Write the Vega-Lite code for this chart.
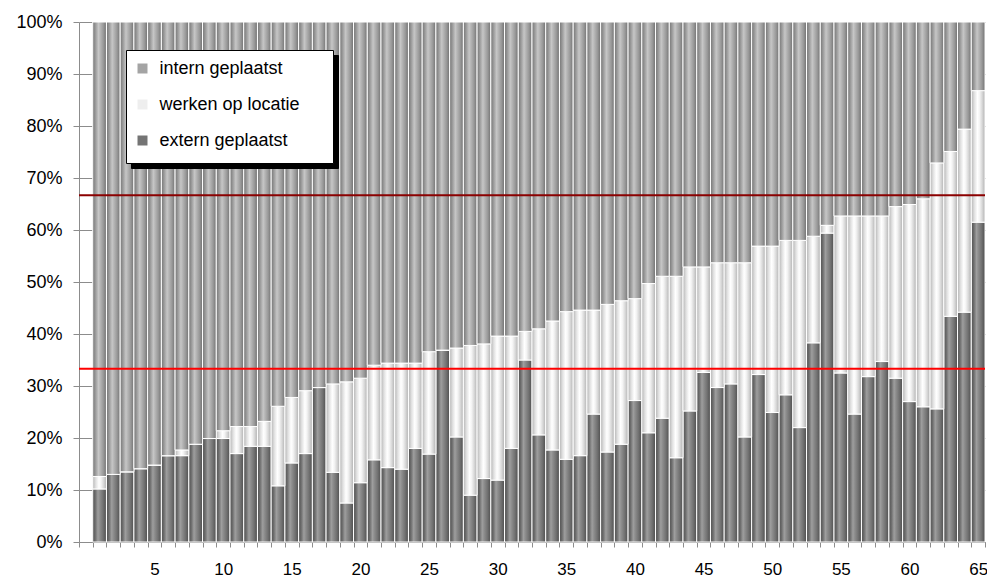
{
  "$schema": "https://vega.github.io/schema/vega-lite/v6.json",
  "width": 906,
  "height": 520,
  "autosize": {"type": "none"},
  "padding": {"left": 79, "top": 22, "right": 2, "bottom": 39},
  "background": "white",
  "config": {
    "font": "Liberation Sans",
    "view": {"stroke": null},
    "axis": {"domainColor": "#8c8c8c", "tickColor": "#8c8c8c", "labelColor": "black", "labelFontSize": 18, "labelFont": "Liberation Sans", "title": null}
  },
  "data": {"values": [
    {"n": 1, "extern geplaatst": 10.2, "werken op locatie": 2.4, "intern geplaatst": 87.4},
    {"n": 2, "extern geplaatst": 13.0, "werken op locatie": 0, "intern geplaatst": 87.0},
    {"n": 3, "extern geplaatst": 13.5, "werken op locatie": 0, "intern geplaatst": 86.5},
    {"n": 4, "extern geplaatst": 14.1, "werken op locatie": 0, "intern geplaatst": 85.9},
    {"n": 5, "extern geplaatst": 14.8, "werken op locatie": 0, "intern geplaatst": 85.2},
    {"n": 6, "extern geplaatst": 16.6, "werken op locatie": 0, "intern geplaatst": 83.4},
    {"n": 7, "extern geplaatst": 16.6, "werken op locatie": 1.1, "intern geplaatst": 82.3},
    {"n": 8, "extern geplaatst": 18.8, "werken op locatie": 0, "intern geplaatst": 81.2},
    {"n": 9, "extern geplaatst": 19.9, "werken op locatie": 0, "intern geplaatst": 80.1},
    {"n": 10, "extern geplaatst": 19.9, "werken op locatie": 1.5, "intern geplaatst": 78.6},
    {"n": 11, "extern geplaatst": 17.0, "werken op locatie": 5.2, "intern geplaatst": 77.8},
    {"n": 12, "extern geplaatst": 18.4, "werken op locatie": 3.8, "intern geplaatst": 77.8},
    {"n": 13, "extern geplaatst": 18.4, "werken op locatie": 4.8, "intern geplaatst": 76.8},
    {"n": 14, "extern geplaatst": 10.8, "werken op locatie": 15.3, "intern geplaatst": 73.9},
    {"n": 15, "extern geplaatst": 15.2, "werken op locatie": 12.6, "intern geplaatst": 72.2},
    {"n": 16, "extern geplaatst": 17.0, "werken op locatie": 12.1, "intern geplaatst": 70.9},
    {"n": 17, "extern geplaatst": 29.7, "werken op locatie": 0, "intern geplaatst": 70.3},
    {"n": 18, "extern geplaatst": 13.4, "werken op locatie": 17.0, "intern geplaatst": 69.6},
    {"n": 19, "extern geplaatst": 7.5, "werken op locatie": 23.3, "intern geplaatst": 69.2},
    {"n": 20, "extern geplaatst": 11.4, "werken op locatie": 20.1, "intern geplaatst": 68.5},
    {"n": 21, "extern geplaatst": 15.8, "werken op locatie": 18.2, "intern geplaatst": 66.0},
    {"n": 22, "extern geplaatst": 14.3, "werken op locatie": 20.1, "intern geplaatst": 65.6},
    {"n": 23, "extern geplaatst": 14.0, "werken op locatie": 20.4, "intern geplaatst": 65.6},
    {"n": 24, "extern geplaatst": 18.0, "werken op locatie": 16.4, "intern geplaatst": 65.6},
    {"n": 25, "extern geplaatst": 16.9, "werken op locatie": 19.7, "intern geplaatst": 63.4},
    {"n": 26, "extern geplaatst": 36.9, "werken op locatie": 0, "intern geplaatst": 63.1},
    {"n": 27, "extern geplaatst": 20.2, "werken op locatie": 17.1, "intern geplaatst": 62.7},
    {"n": 28, "extern geplaatst": 9.0, "werken op locatie": 28.8, "intern geplaatst": 62.2},
    {"n": 29, "extern geplaatst": 12.2, "werken op locatie": 25.9, "intern geplaatst": 61.9},
    {"n": 30, "extern geplaatst": 11.9, "werken op locatie": 27.7, "intern geplaatst": 60.4},
    {"n": 31, "extern geplaatst": 18.0, "werken op locatie": 21.6, "intern geplaatst": 60.4},
    {"n": 32, "extern geplaatst": 35.0, "werken op locatie": 5.5, "intern geplaatst": 59.5},
    {"n": 33, "extern geplaatst": 20.6, "werken op locatie": 20.4, "intern geplaatst": 59.0},
    {"n": 34, "extern geplaatst": 17.7, "werken op locatie": 24.8, "intern geplaatst": 57.5},
    {"n": 35, "extern geplaatst": 15.9, "werken op locatie": 28.4, "intern geplaatst": 55.7},
    {"n": 36, "extern geplaatst": 16.6, "werken op locatie": 28.0, "intern geplaatst": 55.4},
    {"n": 37, "extern geplaatst": 24.6, "werken op locatie": 20.0, "intern geplaatst": 55.4},
    {"n": 38, "extern geplaatst": 17.3, "werken op locatie": 28.4, "intern geplaatst": 54.3},
    {"n": 39, "extern geplaatst": 18.8, "werken op locatie": 27.6, "intern geplaatst": 53.6},
    {"n": 40, "extern geplaatst": 27.2, "werken op locatie": 19.6, "intern geplaatst": 53.2},
    {"n": 41, "extern geplaatst": 21.0, "werken op locatie": 28.7, "intern geplaatst": 50.3},
    {"n": 42, "extern geplaatst": 23.8, "werken op locatie": 27.3, "intern geplaatst": 48.9},
    {"n": 43, "extern geplaatst": 16.2, "werken op locatie": 34.9, "intern geplaatst": 48.9},
    {"n": 44, "extern geplaatst": 25.2, "werken op locatie": 27.7, "intern geplaatst": 47.1},
    {"n": 45, "extern geplaatst": 32.6, "werken op locatie": 20.3, "intern geplaatst": 47.1},
    {"n": 46, "extern geplaatst": 29.7, "werken op locatie": 24.0, "intern geplaatst": 46.3},
    {"n": 47, "extern geplaatst": 30.4, "werken op locatie": 23.3, "intern geplaatst": 46.3},
    {"n": 48, "extern geplaatst": 20.2, "werken op locatie": 33.5, "intern geplaatst": 46.3},
    {"n": 49, "extern geplaatst": 32.2, "werken op locatie": 24.7, "intern geplaatst": 43.1},
    {"n": 50, "extern geplaatst": 24.9, "werken op locatie": 32.0, "intern geplaatst": 43.1},
    {"n": 51, "extern geplaatst": 28.3, "werken op locatie": 29.7, "intern geplaatst": 42.0},
    {"n": 52, "extern geplaatst": 22.0, "werken op locatie": 36.0, "intern geplaatst": 42.0},
    {"n": 53, "extern geplaatst": 38.3, "werken op locatie": 20.5, "intern geplaatst": 41.2},
    {"n": 54, "extern geplaatst": 59.4, "werken op locatie": 1.5, "intern geplaatst": 39.1},
    {"n": 55, "extern geplaatst": 32.5, "werken op locatie": 30.2, "intern geplaatst": 37.3},
    {"n": 56, "extern geplaatst": 24.6, "werken op locatie": 38.1, "intern geplaatst": 37.3},
    {"n": 57, "extern geplaatst": 31.8, "werken op locatie": 30.9, "intern geplaatst": 37.3},
    {"n": 58, "extern geplaatst": 34.7, "werken op locatie": 28.0, "intern geplaatst": 37.3},
    {"n": 59, "extern geplaatst": 31.5, "werken op locatie": 33.0, "intern geplaatst": 35.5},
    {"n": 60, "extern geplaatst": 27.0, "werken op locatie": 37.9, "intern geplaatst": 35.1},
    {"n": 61, "extern geplaatst": 26.0, "werken op locatie": 40.0, "intern geplaatst": 34.0},
    {"n": 62, "extern geplaatst": 25.6, "werken op locatie": 47.3, "intern geplaatst": 27.1},
    {"n": 63, "extern geplaatst": 43.4, "werken op locatie": 31.7, "intern geplaatst": 24.9},
    {"n": 64, "extern geplaatst": 44.2, "werken op locatie": 35.2, "intern geplaatst": 20.6},
    {"n": 65, "extern geplaatst": 61.5, "werken op locatie": 25.3, "intern geplaatst": 13.2}
  ]},
  "layer": [
    {
      "transform": [
        {"fold": ["extern geplaatst", "werken op locatie", "intern geplaatst"], "as": ["type", "v"]},
        {"window": [{"op": "row_number", "as": "k"}]},
        {"stack": "v", "groupby": ["n"], "sort": [{"field": "k", "order": "ascending"}], "as": ["y0", "y1"]}
      ],
      "encoding": {
        "x": {
          "field": "n", "type": "ordinal",
          "scale": {"domain": [0,1,2,3,4,5,6,7,8,9,10,11,12,13,14,15,16,17,18,19,20,21,22,23,24,25,26,27,28,29,30,31,32,33,34,35,36,37,38,39,40,41,42,43,44,45,46,47,48,49,50,51,52,53,54,55,56,57,58,59,60,61,62,63,64,65], "paddingInner": 0, "paddingOuter": 0},
          "axis": {"labelAngle": 0, "tickBand": "extent", "tickSize": 5, "labelPadding": 14, "labelDx": -3, "labelFontSize": 17, "grid": false, "labelExpr": "datum.value % 5 == 0 && datum.value > 0 ? datum.label : ''"}
        },
        "y": {
          "field": "y1", "type": "quantitative",
          "scale": {"domain": [0, 100], "nice": false},
          "axis": {"values": [0,10,20,30,40,50,60,70,80,90,100], "tickSize": 6, "labelPadding": 11, "grid": true, "gridColor": "#8c8c8c", "labelExpr": "datum.value + '%'"}
        },
        "y2": {"field": "y0"}
      },
      "layer": [
        {
          "mark": {"type": "bar"},
          "encoding": {
            "color": {
              "field": "type", "type": "nominal",
              "scale": {"domain": ["intern geplaatst", "werken op locatie", "extern geplaatst"], "range": ["#a4a4a4", "#eeeeee", "#747474"]},
              "legend": {"orient": "none", "legendX": 43, "legendY": 26, "title": null, "fillColor": "transparent", "strokeColor": "transparent", "padding": 11.5, "symbolType": "square", "symbolSize": 100, "symbolStrokeWidth": 0, "labelFontSize": 18, "labelColor": "black", "labelFont": "Liberation Sans", "rowPadding": 18, "labelOffset": 8, "labelLimit": 400, "zindex": 3}
            }
          }
        },
        {
          "transform": [{"filter": {"field": "type", "equal": "extern geplaatst"}}],
          "mark": {"type": "bar", "stroke": "white", "strokeWidth": 1, "color": {"gradient": "linear", "x1": 0, "y1": 0, "x2": 1, "y2": 0, "stops": [
            {"offset": 0, "color": "#525252"}, {"offset": 0.18, "color": "#6c6c6c"}, {"offset": 0.38, "color": "#9e9e9e"}, {"offset": 0.52, "color": "#8c8c8c"}, {"offset": 0.75, "color": "#727272"}, {"offset": 1, "color": "#4e4e4e"}]}}
        },
        {
          "transform": [{"filter": {"field": "type", "equal": "werken op locatie"}}],
          "mark": {"type": "bar", "stroke": "white", "strokeWidth": 1, "color": {"gradient": "linear", "x1": 0, "y1": 0, "x2": 1, "y2": 0, "stops": [
            {"offset": 0, "color": "#b4b4b4"}, {"offset": 0.22, "color": "#e0e0e0"}, {"offset": 0.45, "color": "#ffffff"}, {"offset": 0.6, "color": "#f4f4f4"}, {"offset": 0.8, "color": "#d6d6d6"}, {"offset": 1, "color": "#b0b0b0"}]}}
        },
        {
          "transform": [{"filter": {"field": "type", "equal": "intern geplaatst"}}],
          "mark": {"type": "bar", "stroke": "white", "strokeWidth": 1, "color": {"gradient": "linear", "x1": 0, "y1": 0, "x2": 1, "y2": 0, "stops": [
            {"offset": 0, "color": "#747474"}, {"offset": 0.2, "color": "#9a9a9a"}, {"offset": 0.42, "color": "#c6c6c6"}, {"offset": 0.56, "color": "#b4b4b4"}, {"offset": 0.78, "color": "#989898"}, {"offset": 1, "color": "#707070"}]}}
        }
      ]
    },
    {
      "transform": [
        {"fold": ["extern geplaatst", "werken op locatie", "intern geplaatst"], "as": ["kind", "v"]}
      ],
      "mark": {"type": "line", "opacity": 0},
      "encoding": {
        "x": {"field": "n", "type": "ordinal"},
        "y": {"field": "v", "type": "quantitative"},
        "strokeDash": {
          "field": "kind", "type": "nominal",
          "scale": {"range": [[1, 0], [1, 0], [1, 0]]},
          "legend": {"orient": "none", "legendX": 47, "legendY": 28, "title": null, "fillColor": "white", "strokeColor": "black", "padding": 11.5, "symbolType": "square", "symbolSize": 324, "symbolStrokeWidth": 0, "labelFontSize": 18, "labelColor": "black", "rowPadding": 18, "labelOffset": 166, "zindex": 2, "labelExpr": "''"}
        }
      }
    },
    {
      "transform": [
        {"fold": ["extern geplaatst", "werken op locatie", "intern geplaatst"], "as": ["soort", "v"]}
      ],
      "mark": {"type": "point", "opacity": 0, "filled": true},
      "encoding": {
        "x": {"field": "n", "type": "ordinal"},
        "y": {"field": "v", "type": "quantitative"},
        "shape": {
          "field": "soort", "type": "nominal",
          "scale": {"range": ["square", "square", "square"]},
          "legend": {"orient": "none", "legendX": 52, "legendY": 33, "title": null, "fillColor": "black", "strokeColor": "black", "padding": 11.5, "symbolType": "square", "symbolSize": 324, "symbolStrokeWidth": 0, "labelFontSize": 18, "labelColor": "black", "rowPadding": 18, "labelOffset": 166, "zindex": 1, "labelExpr": "''"}
        }
      }
    },
    {
      "data": {"values": [{"grens": 33.33}, {"grens": 66.67}]},
      "mark": {"type": "rule", "strokeWidth": 2},
      "encoding": {
        "y": {"field": "grens", "type": "quantitative", "scale": {"domain": [0, 100]}},
        "stroke": {"field": "grens", "type": "nominal", "scale": {"domain": [33.33, 66.67], "range": ["#ff0000", "#8b0000"]}, "legend": null}
      }
    }
  ]
}
